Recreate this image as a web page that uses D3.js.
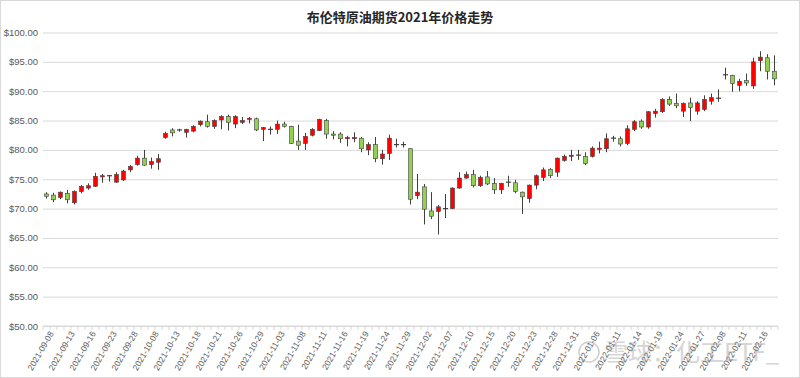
<!DOCTYPE html>
<html>
<head>
<meta charset="utf-8">
<script src="https://cdn.jsdelivr.net/npm/d3@7"></script>
<style>
  html, body { margin: 0; padding: 0; background: #fff; }
  svg { display: block; }
</style>
</head>
<body>
<div id="chart"></div>
<script>
// Brent crude futures candlestick chart, Sep 2021 - Feb 2022.
// Red body = close above open, green body = close below open.

const TITLE = "布伦特原油期货2021年价格走势";

const dates = [
  "2021-09-08","2021-09-09","2021-09-10","2021-09-13","2021-09-14","2021-09-15","2021-09-16","2021-09-17",
  "2021-09-22","2021-09-23","2021-09-24","2021-09-27","2021-09-28","2021-09-29","2021-09-30","2021-10-08",
  "2021-10-11","2021-10-12","2021-10-13","2021-10-14","2021-10-15","2021-10-18","2021-10-19","2021-10-20",
  "2021-10-21","2021-10-22","2021-10-25","2021-10-26","2021-10-27","2021-10-28","2021-10-29","2021-11-01",
  "2021-11-02","2021-11-03","2021-11-04","2021-11-05","2021-11-08","2021-11-09","2021-11-10","2021-11-11",
  "2021-11-12","2021-11-15","2021-11-16","2021-11-17","2021-11-18","2021-11-19","2021-11-22","2021-11-23",
  "2021-11-24","2021-11-25","2021-11-26","2021-11-29","2021-11-30","2021-12-01","2021-12-02","2021-12-03",
  "2021-12-06","2021-12-07","2021-12-08","2021-12-09","2021-12-10","2021-12-13","2021-12-14","2021-12-15",
  "2021-12-16","2021-12-17","2021-12-20","2021-12-21","2021-12-22","2021-12-23","2021-12-24","2021-12-27",
  "2021-12-28","2021-12-29","2021-12-30","2021-12-31","2022-01-04","2022-01-05","2022-01-06","2022-01-07",
  "2022-01-10","2022-01-11","2022-01-12","2022-01-13","2022-01-14","2022-01-17","2022-01-18","2022-01-19",
  "2022-01-20","2022-01-21","2022-01-24","2022-01-25","2022-01-26","2022-01-27","2022-01-28","2022-02-07",
  "2022-02-08","2022-02-09","2022-02-10","2022-02-11","2022-02-14","2022-02-15","2022-02-16","2022-02-17",
  "2022-02-18"
];

const opens = [
  72.5, 72.3, 71.9, 72.6, 71.0, 72.9, 73.5, 73.8, 75.4, 75.6, 74.5, 74.9, 76.6, 77.5, 78.6, 77.5,
  77.9, 82.1, 83.4, 83.4, 83.0, 83.2, 84.3, 84.8, 84.0, 85.1, 85.7, 84.4, 84.7, 85.2, 85.3, 83.5,
  83.5, 83.5, 84.4, 84.0, 81.5, 81.1, 82.5, 83.3, 85.0, 82.7, 82.7, 81.9, 81.9, 82.0, 80.0, 80.9,
  78.5, 79.4, 80.9, 80.9, 80.2, 72.2, 73.7, 69.6, 69.5, 70.0, 70.0, 73.5, 75.2, 75.8, 73.9, 75.4,
  74.3, 73.2, 74.5, 74.4, 72.8, 71.7, 74.0, 75.3, 76.7, 76.2, 78.2, 78.9, 79.1, 78.9, 78.9, 80.1,
  80.2, 82.0, 81.9, 81.1, 83.5, 84.9, 83.9, 86.2, 86.5, 88.6, 87.9, 86.6, 88.0, 86.6, 86.9, 88.3,
  88.8, 92.8, 92.7, 91.0, 91.8, 90.9, 95.2, 95.7, 93.4
];

const highs = [
  72.8, 72.7, 72.9, 73.2, 73.1, 74.0, 74.3, 76.1, 75.9, 75.7, 76.2, 76.6, 77.4, 79.0, 80.0, 78.7,
  79.3, 83.1, 83.7, 83.6, 83.6, 84.2, 85.0, 86.0, 85.2, 85.9, 86.0, 85.9, 85.6, 85.6, 85.5, 83.9,
  84.0, 85.0, 84.8, 84.1, 84.3, 82.9, 83.7, 85.3, 85.3, 83.2, 83.0, 82.4, 83.0, 82.2, 81.3, 82.2,
  80.0, 82.6, 81.9, 81.4, 80.3, 75.9, 74.2, 72.8, 70.6, 72.5, 73.6, 76.2, 76.3, 76.6, 75.6, 76.4,
  75.2, 74.4, 75.6, 74.9, 72.9, 74.1, 75.8, 77.0, 76.9, 78.7, 79.2, 80.0, 80.0, 79.6, 80.6, 81.4,
  82.8, 82.4, 82.3, 84.2, 85.1, 85.2, 86.6, 87.0, 88.8, 89.1, 89.6, 88.1, 88.9, 88.3, 89.3, 89.6,
  90.3, 94.0, 92.8, 92.1, 93.0, 95.7, 96.8, 96.3, 96.1
];

const lows = [
  71.7, 71.1, 71.6, 70.9, 70.7, 72.6, 73.2, 73.7, 74.4, 74.6, 74.4, 74.7, 76.2, 77.3, 77.3, 76.8,
  76.6, 81.9, 82.3, 83.1, 82.1, 83.0, 84.0, 83.8, 83.6, 83.5, 83.3, 83.7, 84.4, 84.5, 83.2, 81.5,
  82.6, 82.7, 83.8, 81.0, 80.0, 80.0, 82.3, 83.2, 81.9, 81.8, 81.2, 80.6, 81.3, 79.6, 79.1, 77.9,
  77.5, 78.3, 80.4, 80.4, 70.7, 71.6, 67.3, 68.2, 65.6, 68.4, 69.9, 73.4, 75.1, 73.6, 73.7, 74.0,
  72.5, 72.5, 73.7, 72.6, 69.1, 71.0, 73.3, 74.7, 75.2, 75.4, 78.0, 78.1, 78.3, 77.4, 78.7, 79.4,
  79.6, 81.4, 80.6, 80.8, 83.2, 83.6, 83.6, 85.5, 86.3, 87.5, 87.1, 85.6, 84.9, 86.0, 86.6, 87.7,
  88.2, 92.0, 89.9, 90.0, 90.9, 90.4, 93.4, 92.0, 91.0
];

const closes = [
  72.1, 71.5, 72.8, 71.5, 72.9, 73.8, 73.9, 75.5, 75.6, 75.6, 75.8, 76.4, 77.2, 78.6, 77.4, 78.0,
  78.5, 82.8, 82.9, 83.4, 83.5, 84.0, 84.9, 84.0, 85.0, 85.7, 84.7, 85.7, 85.0, 85.4, 83.4, 83.8,
  83.5, 84.4, 84.0, 81.1, 80.8, 82.3, 83.5, 85.2, 82.7, 82.5, 81.9, 82.1, 82.1, 80.2, 80.9, 78.5,
  79.3, 82.0, 80.9, 80.9, 71.6, 72.8, 69.9, 68.7, 70.3, 70.0, 73.5, 75.2, 75.8, 73.9, 75.3, 74.2,
  73.2, 74.3, 74.5, 72.9, 72.0, 74.0, 75.6, 76.6, 75.6, 78.6, 78.9, 79.1, 79.1, 77.7, 80.3, 80.3,
  81.9, 82.0, 81.0, 83.6, 84.8, 83.9, 86.5, 86.6, 88.6, 87.8, 87.5, 87.9, 87.2, 88.0, 88.6, 88.9,
  88.8, 92.8, 91.3, 91.7, 91.4, 95.0, 95.8, 93.4, 92.1
];

const yTicks = [50, 55, 60, 65, 70, 75, 80, 85, 90, 95, 100];
const LABEL_EVERY = 3;

const W = 800, H = 378;
const m = { top: 32.5, right: 22, bottom: 52, left: 43 };

const UP_COLOR   = "#ff0000";
const DOWN_COLOR = "#92d050";
const EDGE_COLOR = "#404040";
const GRID_COLOR = "#d9d9d9";
const TEXT_COLOR = "#595959";
const FONT       = "'Liberation Sans', Arial, sans-serif";

const rows = dates.map((d, i) => ({
  date: d, o: opens[i], h: highs[i], l: lows[i], c: closes[i]
}));

const svg = d3.select("#chart").append("svg")
  .attr("width", W)
  .attr("height", H);

// chart area border
svg.append("rect")
  .attr("x", 0.5).attr("y", 0.5)
  .attr("width", W - 1).attr("height", H - 1)
  .attr("fill", "#fff")
  .attr("stroke", GRID_COLOR);

const x = d3.scaleBand()
  .domain(dates)
  .range([m.left, W - m.right])
  .padding(0);

const y = d3.scaleLinear()
  .domain([d3.min(yTicks), d3.max(yTicks)])
  .range([H - m.bottom, m.top]);

// Title
svg.append("text")
  .attr("x", W / 2)
  .attr("y", 22)
  .attr("text-anchor", "middle")
  .attr("font-family", "'Noto Sans CJK SC', sans-serif")
  .attr("font-weight", 700)
  .attr("font-size", "13px")
  .attr("fill", "#262626")
  .text(TITLE);

// Grid + y labels
const yAxisG = svg.append("g")
  .attr("transform", `translate(${m.left},0)`)
  .call(d3.axisLeft(y)
    .tickValues(yTicks)
    .tickSize(-(W - m.left - m.right))
    .tickPadding(5)
    .tickFormat(d => "$" + d3.format(".2f")(d)));
yAxisG.select(".domain").remove();
yAxisG.selectAll(".tick line")
  .attr("stroke", GRID_COLOR)
  .attr("stroke-width", 1);
yAxisG.selectAll("text")
  .attr("fill", TEXT_COLOR)
  .attr("font-size", "9.5px")
  .attr("font-family", FONT);

// X axis: tick marks between categories, labels every third category
const xAxisY = y(yTicks[0]);
const xg = svg.append("g");
xg.append("line")
  .attr("x1", m.left).attr("x2", W - m.right)
  .attr("y1", xAxisY).attr("y2", xAxisY)
  .attr("stroke", GRID_COLOR);
xg.selectAll(".xtick")
  .data(d3.range(dates.length + 1))
  .join("line")
    .attr("class", "xtick")
    .attr("x1", i => m.left + i * x.step())
    .attr("x2", i => m.left + i * x.step())
    .attr("y1", xAxisY).attr("y2", xAxisY + 4)
    .attr("stroke", GRID_COLOR);

xg.selectAll(".xlabel")
  .data(dates.filter((d, i) => i % LABEL_EVERY === 0))
  .join("text")
    .attr("class", "xlabel")
    .attr("transform", d => `translate(${x(d) + x.bandwidth() / 2 + 5},${xAxisY + 6}) rotate(-60)`)
    .attr("text-anchor", "end")
    .attr("dy", "0.35em")
    .attr("fill", TEXT_COLOR)
    .attr("font-size", "8.5px")
    .attr("font-family", FONT)
    .text(d => d);

// Candles
const bodyW = 4;
const candles = svg.append("g")
  .selectAll("g")
  .data(rows)
  .join("g")
    .attr("transform", d => `translate(${x(d.date) + x.bandwidth() / 2},0)`);

candles.append("line")
  .attr("y1", d => y(d.h))
  .attr("y2", d => y(d.l))
  .attr("stroke", EDGE_COLOR)
  .attr("stroke-width", 1);

candles.filter(d => d.o !== d.c).append("rect")
  .attr("x", -bodyW / 2)
  .attr("width", bodyW)
  .attr("y", d => y(Math.max(d.o, d.c)))
  .attr("height", d => Math.max(1, Math.abs(y(d.o) - y(d.c))))
  .attr("fill", d => d.c > d.o ? UP_COLOR : DOWN_COLOR)
  .attr("stroke", EDGE_COLOR)
  .attr("stroke-width", 0.6);

candles.filter(d => d.o === d.c).append("line")
  .attr("x1", -bodyW / 2 - 0.5)
  .attr("x2",  bodyW / 2 + 0.5)
  .attr("y1", d => y(d.o))
  .attr("y2", d => y(d.o))
  .attr("stroke", EDGE_COLOR)
  .attr("stroke-width", 1.2);

// Watermark
const wm = svg.append("g").attr("opacity", 0.35);
wm.append("circle")
  .attr("cx", 589).attr("cy", 352).attr("r", 10)
  .attr("fill", "none").attr("stroke", "#777").attr("stroke-width", 1.5);
wm.append("text")
  .attr("x", 604).attr("y", 361)
  .attr("font-family", "'Noto Sans CJK SC', sans-serif")
  .attr("font-size", "24px")
  .attr("fill", "#888")
  .text("雪球：化工ETF_");
</script>
</body>
</html>
